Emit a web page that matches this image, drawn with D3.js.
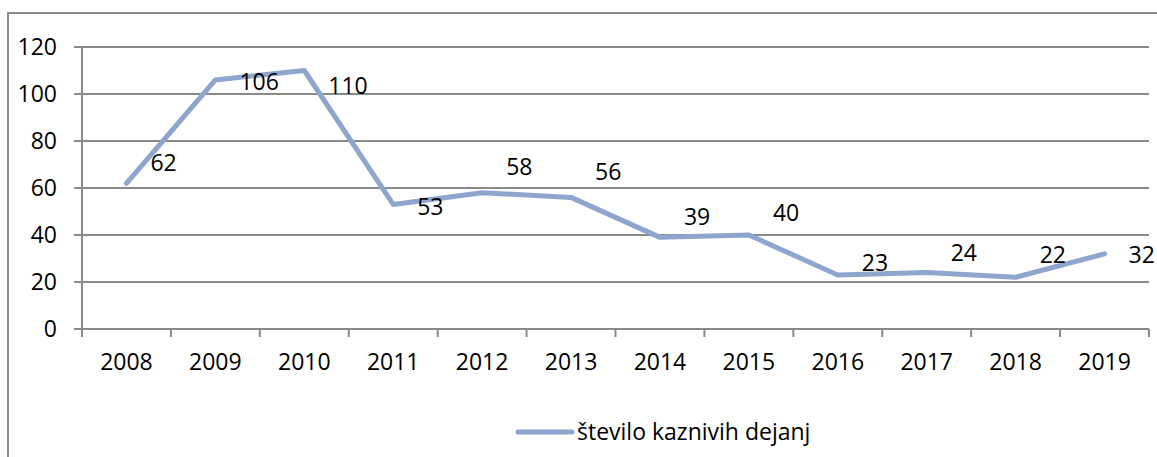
<!DOCTYPE html>
<html>
<head>
<meta charset="utf-8">
<script src="https://cdn.jsdelivr.net/npm/d3@7"></script>
<style>
  html, body { margin: 0; padding: 0; background: #fff; }
  svg { display: block; font-family: "Open Sans", sans-serif; }
</style>
</head>
<body>
<div id="chart"></div>
<script>
const years = ["2008", "2009", "2010", "2011", "2012", "2013", "2014", "2015", "2016", "2017", "2018", "2019"];
const values = [62, 106, 110, 53, 58, 56, 39, 40, 23, 24, 22, 32];
const yTicks = [0, 20, 40, 60, 80, 100, 120];
const seriesName = "število kaznivih dejanj";

// label vertical nudges as placed in the original chart
const labelNudge = [-20, 2, 15, 2, -26, -25, -20, -22, -12, -20, -22, 1];

const width = 1157, height = 457;
const margin = { left: 82, right: 8, top: 47, bottom: 128 };
const lineColor = "#8EA5CE";
const gridColor = "#8A8A8A";
const fontSize = 23;

const svg = d3.select("#chart").append("svg")
  .attr("width", width)
  .attr("height", height);

// outer frame
svg.append("rect")
  .attr("x", 8).attr("y", 13)
  .attr("width", width + 10).attr("height", height + 10)
  .attr("fill", "none")
  .attr("stroke", "#8C8C8C")
  .attr("stroke-width", 2);

const x = d3.scaleBand()
  .domain(years)
  .range([margin.left, width - margin.right]);

const y = d3.scaleLinear()
  .domain([0, 120])
  .range([height - margin.bottom, margin.top]);

// gridlines
svg.append("g").selectAll("line")
  .data(yTicks)
  .join("line")
  .attr("x1", margin.left - 8)
  .attr("x2", width - margin.right)
  .attr("y1", d => y(d))
  .attr("y2", d => y(d))
  .attr("stroke", gridColor)
  .attr("stroke-width", 2);

// y labels
svg.append("g").selectAll("text")
  .data(yTicks)
  .join("text")
  .attr("x", margin.left - 25)
  .attr("y", d => y(d))
  .attr("dy", "0.35em")
  .attr("text-anchor", "end")
  .attr("font-size", fontSize)
  .attr("fill", "#000")
  .text(d => d);

// y axis line
svg.append("line")
  .attr("x1", margin.left).attr("x2", margin.left)
  .attr("y1", y(120)).attr("y2", y(0) + 7)
  .attr("stroke", gridColor)
  .attr("stroke-width", 2);

// x ticks between categories
const boundaries = years.map(d => x(d)).concat([x(years[years.length - 1]) + x.bandwidth()]);
svg.append("g").selectAll("line")
  .data(boundaries)
  .join("line")
  .attr("x1", d => d).attr("x2", d => d)
  .attr("y1", y(0)).attr("y2", y(0) + 8)
  .attr("stroke", gridColor)
  .attr("stroke-width", 2);

// x labels
svg.append("g").selectAll("text")
  .data(years)
  .join("text")
  .attr("x", d => x(d) + x.bandwidth() / 2)
  .attr("y", y(0) + 33)
  .attr("dy", "0.35em")
  .attr("text-anchor", "middle")
  .attr("font-size", fontSize)
  .attr("fill", "#000")
  .text(d => d);

// line
const line = d3.line()
  .x((d, i) => x(years[i]) + x.bandwidth() / 2)
  .y(d => y(d));

svg.append("path")
  .datum(values)
  .attr("d", line)
  .attr("fill", "none")
  .attr("stroke", lineColor)
  .attr("stroke-width", 5)
  .attr("stroke-linejoin", "round")
  .attr("stroke-linecap", "round");

// data labels
svg.append("g").selectAll("text")
  .data(values)
  .join("text")
  .attr("x", (d, i) => x(years[i]) + x.bandwidth() / 2 + 24)
  .attr("y", (d, i) => y(d) + labelNudge[i])
  .attr("dy", "0.35em")
  .attr("font-size", fontSize)
  .attr("fill", "#000")
  .text(d => d);

// legend
const legend = svg.append("g").attr("transform", "translate(518,432)");
legend.append("line")
  .attr("x1", 0).attr("x2", 54)
  .attr("stroke", lineColor)
  .attr("stroke-width", 5)
  .attr("stroke-linecap", "round");
legend.append("text")
  .attr("x", 59)
  .attr("dy", "0.35em")
  .attr("font-size", fontSize)
  .attr("fill", "#000")
  .text(seriesName);
</script>
</body>
</html>
